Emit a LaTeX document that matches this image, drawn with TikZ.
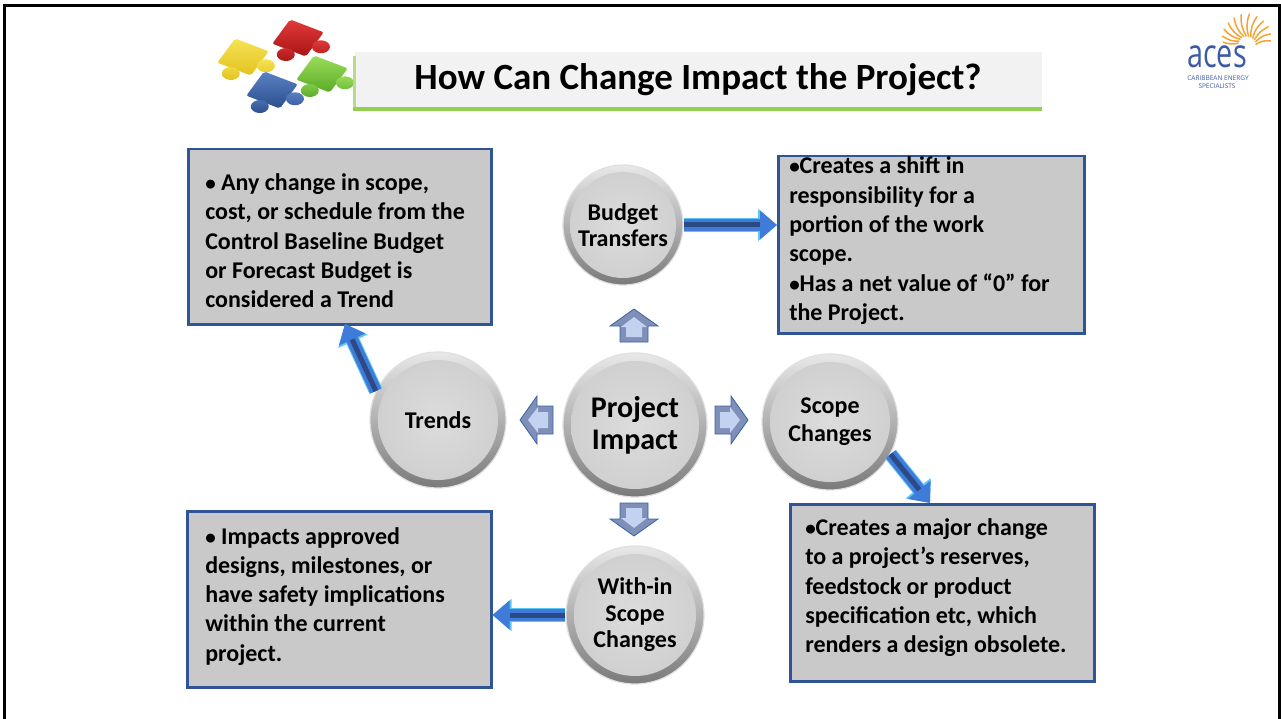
\documentclass[tikz,border=0pt]{standalone}
\usepackage{fontspec}
\setmainfont{Carlito}
\newfontfamily\logofont[FakeStretch=0.72]{Open Sans}
\newfontfamily\logosmall{Open Sans}
\usetikzlibrary{arrows.meta,calc}

\definecolor{boxgray}{HTML}{C9C9C9}
\definecolor{boxblue}{HTML}{2F5597}
\definecolor{titlebg}{HTML}{F2F2F2}
\definecolor{titlegreen}{HTML}{92D050}
\definecolor{arrowdark}{HTML}{2B4A86}
\definecolor{arrowblue}{HTML}{3F7CDA}
\definecolor{arrowedge}{HTML}{5CC6F2}
\definecolor{bevelout}{HTML}{7F8FB8}
\definecolor{bevelin}{HTML}{C4D2F1}
\definecolor{bevelline}{HTML}{3A63A8}
\definecolor{rimlight}{HTML}{E8E8E8}
\definecolor{rimdark}{HTML}{7A7A7A}
\definecolor{faceinner}{HTML}{DCDCDC}
\definecolor{faceouter}{HTML}{D0D0D0}
\definecolor{acesblue}{HTML}{3C5AA6}
\definecolor{sunorange}{HTML}{F5A334}
\definecolor{pzyellow}{HTML}{F6E356}
\definecolor{pzyellowd}{HTML}{E2C21E}
\definecolor{pzred}{HTML}{E23A3A}
\definecolor{pzredd}{HTML}{A81515}
\definecolor{pzblue}{HTML}{5A82C4}
\definecolor{pzblued}{HTML}{2B4E8E}
\definecolor{pzgreen}{HTML}{9BDD5A}
\definecolor{pzgreend}{HTML}{5AAA28}

\newcommand\boxfont{\fontsize{24}{29.3}\selectfont\bfseries}
\newcommand\ballfont{\fontsize{24}{26.5}\selectfont\bfseries}
\newcommand\bul{{\fontsize{21}{21}\selectfont•}}

\tikzset{
  ball/.style 2 args={circle, minimum size=#1, inner sep=0pt, align=center,
    font=\ballfont, draw=black!12, line width=1.2pt,
    path picture={
      \shade[top color=rimlight, bottom color=rimdark]
        (path picture bounding box.south west) rectangle (path picture bounding box.north east);
      \shade[inner color=faceinner, outer color=faceouter]
        (path picture bounding box.center) circle (#2);
    }},
  infobox/.style={rectangle, draw=boxblue, line width=2.5pt, fill=boxgray,
    anchor=north west, align=flush left, font=\boxfont, inner ysep=0pt},
  textup/.style={execute at end node={\par\vspace*{#1}}},
  bigarrow/.style={draw=arrowblue, line width=12pt,
    -{Triangle[length=17pt,width=28pt]},
    preaction={draw=arrowedge, line width=14pt, -{Triangle[length=19pt,width=31pt]}},
    postaction={draw=arrowdark, line width=5pt, -, shorten >=17pt}},
  bevelarrow/.pic={
    \path[fill=bevelout, draw=bevelline, line width=0.8pt, line join=miter]
      (0,-17) -- (24,0) -- (14,0) -- (14,16) -- (-14,16) -- (-14,0) -- (-24,0) -- cycle;
    \path[fill=bevelin]
      (0,-9) -- (13,1) -- (8,1) -- (8,11) -- (-8,11) -- (-8,1) -- (-13,1) -- cycle;
  },
  piece/.pic={
    \path[pic actions, rounded corners=2pt] (-19,-19) rectangle (19,19);
    \path[pic actions] (26,0) circle (9) (0,26) circle (9);
  }
}

\begin{document}
\begin{tikzpicture}[x=1pt,y=-1pt]
\useasboundingbox (0,0) rectangle (1281,719);

% slide frame
\draw[line width=3pt] (4.5,730) -- (4.5,6) -- (1279.5,6) -- (1279.5,730);

% puzzle pieces
\begin{scope}[every pic/.style={yscale=.72, rotate=-28}]
\pic[top color=pzyellow, bottom color=pzyellowd] at (243,57) {piece};
\pic[top color=pzred, bottom color=pzredd] at (298,38) {piece};
\pic[top color=pzblue, bottom color=pzblued] at (272,90) {piece};
\pic[top color=pzgreen, bottom color=pzgreend] at (322,74) {piece};
\end{scope}

% title bar
\fill[titlebg] (355,52) rectangle (1042,108);
\fill[titlegreen!70] (353,56) rectangle (356,108);
\fill[titlegreen] (353,107) rectangle (1042,111);
\node[font=\fontsize{37}{40}\selectfont\bfseries] (title) at (698,80) {How Can Change Impact the Project?};

% logo
\foreach \a/\l in {-5/15,-20/17,-35/19,-50/20,-65/21,-80/22,-95/22,-110/21,-125/20,-140/19,-155/17,-168/15}
  \draw[sunorange, line width=1.5pt, line cap=round] (1247,45) ++(\a:9) to[bend left=18] ++(\a-8:\l);
\node[font=\logofont\fontsize{40}{40}\selectfont, text=acesblue, inner sep=0pt] (aces) at (1217,57) {aces};
\node[font=\logosmall\fontsize{6.5}{6.5}\selectfont, text=acesblue, inner sep=0pt] (acesline1) at (1218,78) {CARIBBEAN ENERGY};
\node[font=\logosmall\fontsize{6.5}{6.5}\selectfont, text=acesblue, inner sep=0pt] (acesline2) at (1217,86) {SPECIALISTS};

% text boxes
\node[infobox, inner xsep=17pt, text width=269pt, minimum height=175pt, textup=-8pt] (tlbox) at (187,148)
  {\bul{} Any~change~in~scope,\\cost,~or~schedule~from~the\\Control~Baseline~Budget\\or~Forecast~Budget~is\\considered~a~Trend};
\node[infobox, inner xsep=11pt, text width=284pt, minimum height=177pt, textup=8pt] (trbox) at (777,155)
  {\bul Creates~a~shift~in\\responsibility~for~a\\portion~of~the~work\\scope.\\\bul Has~a~net~value~of~“0”~for\\the~Project.};
\node[infobox, inner xsep=15pt, text width=274pt, minimum height=177pt, textup=10pt] (brbox) at (789,503)
  {\bul Creates~a~major~change\\to~a~project’s~reserves,\\feedstock~or~product\\specification~etc,~which\\renders~a~design~obsolete.};
\node[infobox, inner xsep=18pt, text width=268pt, minimum height=176pt, textup=6pt] (blbox) at (186,510)
  {\bul{} Impacts~approved\\designs,~milestones,~or\\have~safety~implications\\within~the~current\\project.};

% circles
\node[ball={120pt}{53pt}] (budget) at (623,225) {Budget\\Transfers};
\node[ball={144pt}{64pt}, font=\fontsize{30}{32}\selectfont\bfseries] (impact) at (635,425) {Project\\Impact};
\node[ball={136pt}{60pt}] (trends) at (438,420) {Trends};
\node[ball={136pt}{60pt}, font=\fontsize{24}{28}\selectfont\bfseries] (scope) at (830,422) {Scope\\Changes};
\node[ball={138pt}{61pt}] (within) at (635,615) {With-in\\Scope\\Changes};

% bevelled arrows around the centre
\pic at (634,326) {bevelarrow};
\pic[rotate=90] at (537,420) {bevelarrow};
\pic[rotate=-90] at (731,420) {bevelarrow};
\pic[rotate=180] at (634,519) {bevelarrow};

% connectors to the boxes
\coordinate (tlin) at (345,324);
\coordinate (brin) at (930,503);
\draw[bigarrow] (budget.east) -- (budget.east -| trbox.west);
\draw[bigarrow] (trends.155) -- (tlin);
\draw[bigarrow] (scope.-28) -- (brin);
\draw[bigarrow] (within.west) -- (within.west -| blbox.east);
\end{tikzpicture}
\end{document}
